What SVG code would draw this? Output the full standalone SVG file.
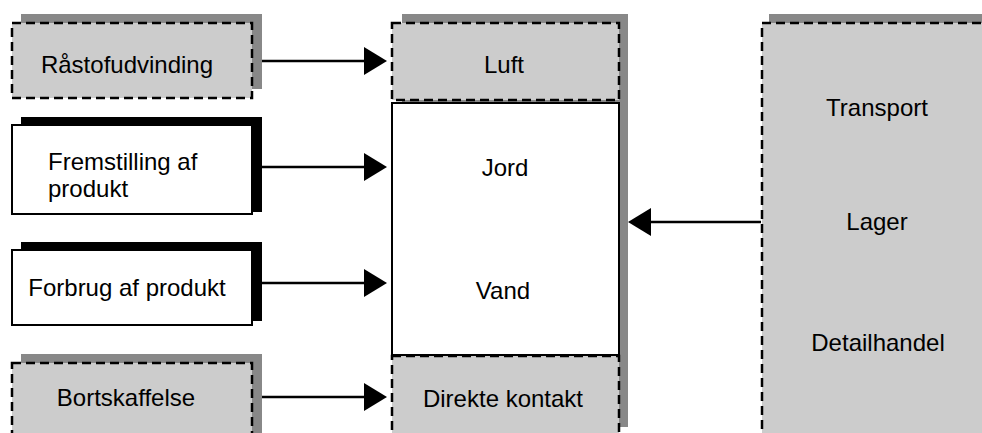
<svg xmlns="http://www.w3.org/2000/svg" width="982" height="433" viewBox="0 0 982 433">
<style>
.t{font-family:"Liberation Sans",Arial,sans-serif;font-size:24px;fill:#000}
.m{text-anchor:middle}
.gs{fill:#888888}
.bs{fill:#000000}
.dash{fill:#cccccc;stroke:#000;stroke-width:2.5;stroke-dasharray:9 5}
.solid{fill:#ffffff;stroke:#000;stroke-width:2}
.ln{stroke:#000;stroke-width:2.5;fill:none}
.hd{fill:#000}
</style>
<rect width="982" height="433" fill="#ffffff"/>
<g id="raastof">
<rect class="gs" x="21" y="14" width="241" height="75"/>
<rect class="dash" x="12" y="23" width="240" height="75"/>
<text class="t m" x="127" y="73">Råstofudvinding</text>
</g>
<g id="fremstilling">
<rect class="bs" x="21" y="117" width="241" height="95"/>
<rect class="solid" x="12" y="125" width="240" height="89"/>
<text class="t" x="48" y="170">Fremstilling af</text>
<text class="t" x="48" y="197">produkt</text>
</g>
<g id="forbrug">
<rect class="bs" x="21" y="242" width="241" height="79"/>
<rect class="solid" x="12" y="250" width="240" height="75"/>
<text class="t m" x="127" y="296">Forbrug af produkt</text>
</g>
<g id="bortskaffelse">
<rect class="gs" x="21" y="354" width="241" height="90"/>
<rect class="dash" x="12" y="363" width="240" height="85"/>
<text class="t m" x="126" y="406">Bortskaffelse</text>
</g>
<g id="miljoe">
<rect class="gs" x="402" y="14" width="226" height="413"/>
<g id="luft">
<rect class="dash" x="392" y="23" width="227" height="77"/>
<text class="t m" x="504" y="73">Luft</text>
</g>
<g id="jordvand">
<rect class="solid" x="392" y="103" width="227" height="252"/>
<text class="t m" x="505" y="176">Jord</text>
<text class="t m" x="503" y="299">Vand</text>
</g>
<g id="direkte">
<rect class="dash" x="392" y="356" width="227" height="90"/>
<text class="t m" x="503" y="407">Direkte kontakt</text>
</g>
</g>
<g id="distribution">
<rect class="gs" x="769" y="14" width="230" height="430"/>
<rect class="dash" x="762" y="23" width="240" height="425"/>
<text class="t m" x="877" y="116">Transport</text>
<text class="t m" x="877" y="230">Lager</text>
<text class="t m" x="878" y="351">Detailhandel</text>
</g>
<g id="connectors">
<line class="ln" x1="262" y1="61" x2="366" y2="61"/>
<polygon class="hd" points="364,47 387,61 364,75"/>
<line class="ln" x1="262" y1="167" x2="366" y2="167"/>
<polygon class="hd" points="364,153 387,167 364,181"/>
<line class="ln" x1="262" y1="283" x2="366" y2="283"/>
<polygon class="hd" points="364,269 387,283 364,297"/>
<line class="ln" x1="262" y1="397" x2="366" y2="397"/>
<polygon class="hd" points="364,383 387,397 364,411"/>
<line class="ln" x1="761" y1="222" x2="649" y2="222"/>
<polygon class="hd" points="651,208 628,222 651,236"/>
</g>
</svg>
